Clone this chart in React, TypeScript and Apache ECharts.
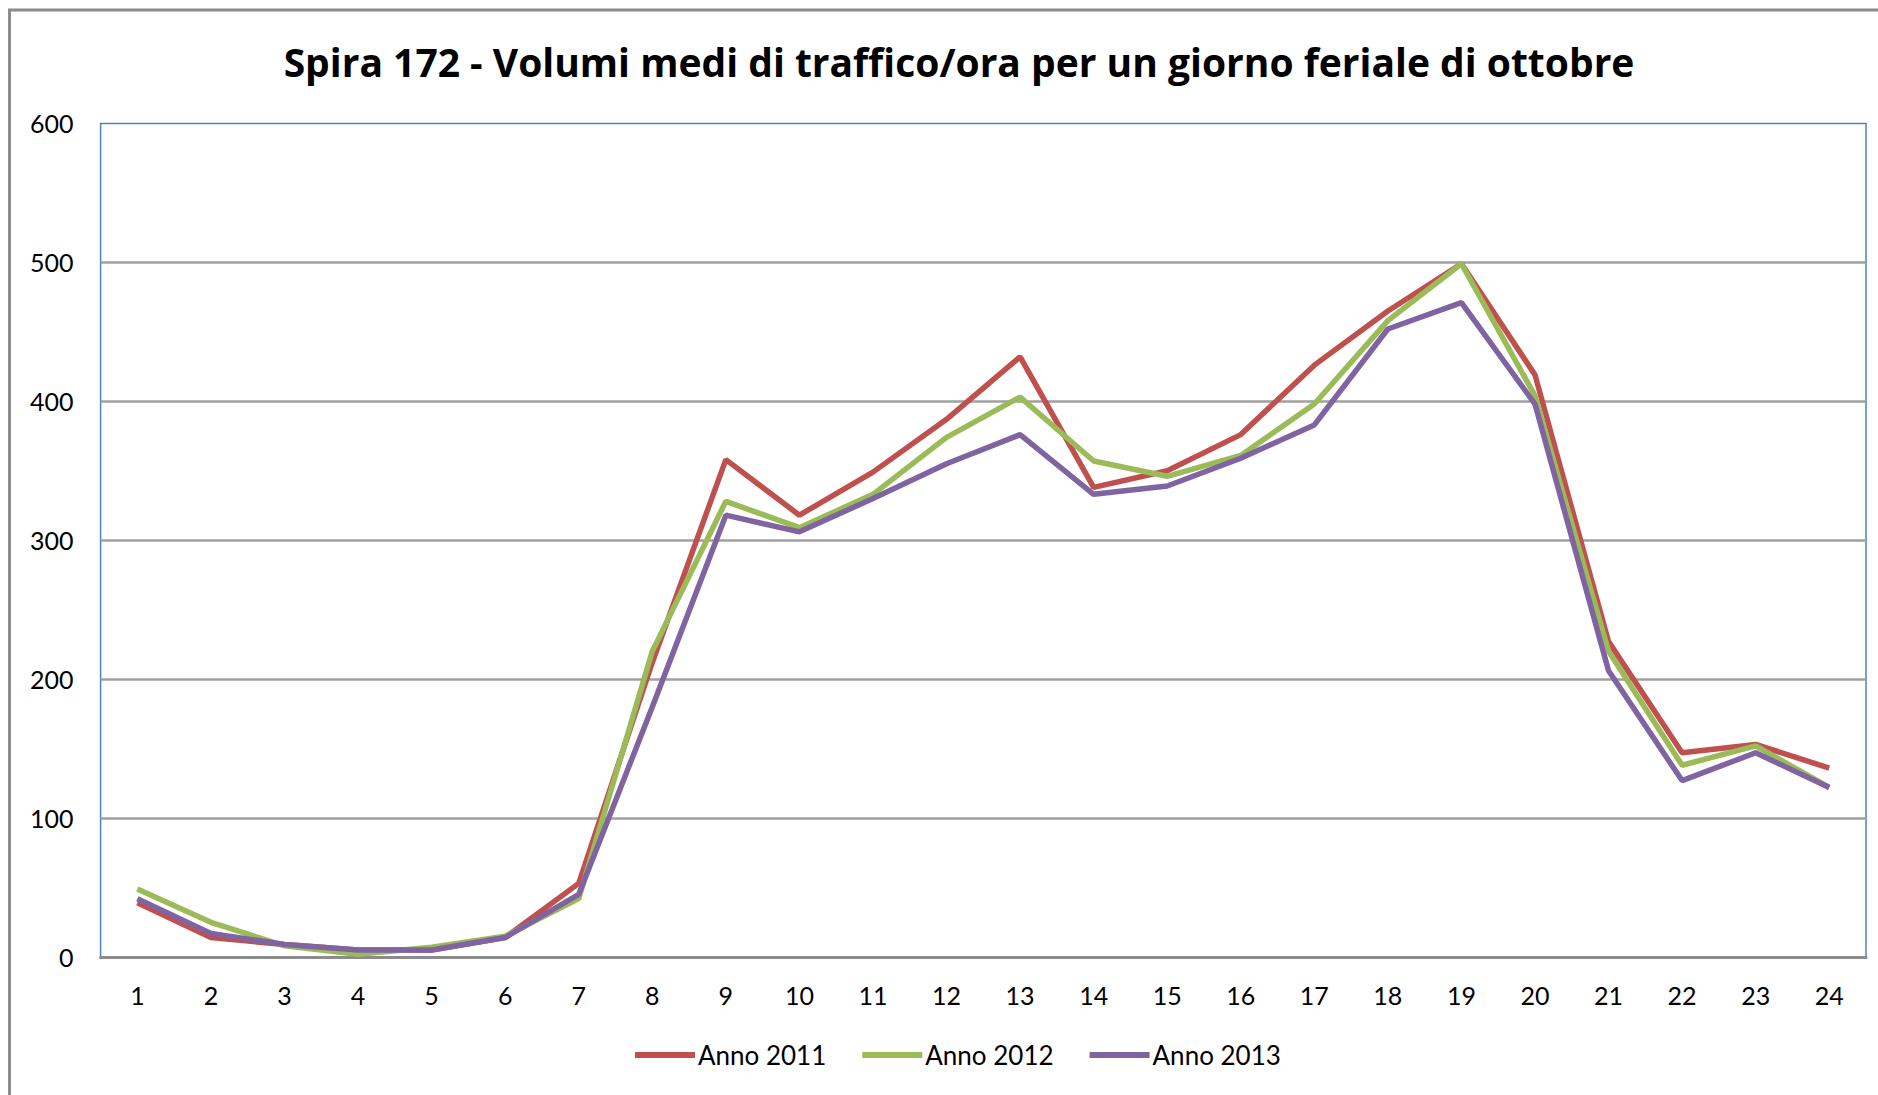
import React, { useEffect, useRef } from "react";
import * as echarts from "echarts";

const hours = ["1","2","3","4","5","6","7","8","9","10","11","12","13","14","15","16","17","18","19","20","21","22","23","24"];
const anno2011 = [39, 14, 9, 5, 5, 14, 53, 212, 358, 318, 349, 387, 432, 338, 350, 376, 426, 465, 499, 419, 227, 147, 153, 136];
const anno2012 = [49, 25, 8, 2, 7, 15, 42, 220, 328, 309, 333, 374, 403, 357, 346, 361, 398, 458, 499, 404, 220, 138, 152, 122];
const anno2013 = [42, 17, 9, 5, 5, 14, 45, 180, 318, 306, 330, 355, 376, 333, 339, 359, 383, 452, 471, 398, 206, 127, 147, 122];
const seriesNames = ["Anno 2011", "Anno 2012", "Anno 2013"];
const seriesColors = ["#C0504D", "#9BBB59", "#8064A2"];
const titleText = "Spira 172 - Volumi medi di traffico/ora per un giorno feriale di ottobre";

export default function App() {
  const ref = useRef<HTMLDivElement>(null);
  useEffect(() => {
    if (!ref.current) return;
    const chart = echarts.init(ref.current, null, { renderer: "svg" });
    const font = "Lato, 'Open Sans', sans-serif";
    const data = [anno2011, anno2012, anno2013];
    chart.setOption({
      animation: false,
      backgroundColor: "#ffffff",
      title: {
        text: titleText,
        left: 954,
        top: 56,
        textAlign: "center",
        textVerticalAlign: "middle",
        textStyle: { fontFamily: "'Open Sans', Lato, sans-serif", fontWeight: "bold", fontSize: 39, color: "#000000" },
      },
      graphic: [
        {
          type: "rect",
          shape: { x: 9.5, y: 10, width: 1900, height: 1100 },
          style: { fill: "none", stroke: "#8c8c8c", lineWidth: 3 },
          silent: true,
        },
      ],
      legend: {
        left: 635,
        top: 1042,
        orient: "horizontal",
        icon: "rect",
        itemWidth: 60,
        itemHeight: 6,
        itemGap: 36,
        textStyle: { fontFamily: font, fontSize: 26, color: "#000000", padding: [0, 0, 0, -2] },
        data: seriesNames,
        padding: 0,
      },
      grid: {
        left: 100.6,
        right: 12,
        top: 123.4,
        bottom: 138,
        show: true,
        borderColor: "#4F81BD",
        borderWidth: 1.5,
        backgroundColor: "transparent",
      },
      xAxis: {
        type: "category",
        data: hours,
        boundaryGap: true,
        axisLine: { show: true, lineStyle: { color: "#8c8c8c", width: 3 } },
        axisTick: { show: false },
        axisLabel: { fontFamily: font, fontSize: 25, color: "#000000", margin: 25 },
        splitLine: { show: false },
      },
      yAxis: {
        type: "value",
        min: 0,
        max: 600,
        interval: 100,
        axisLine: { show: false },
        axisTick: { show: false },
        axisLabel: { fontFamily: font, fontSize: 25, color: "#000000", margin: 27 },
        splitLine: {
          show: true,
          lineStyle: {
            color: ["#a0a0a0", "#a0a0a0", "#a0a0a0", "#a0a0a0", "#a0a0a0", "#a0a0a0", "transparent"],
            width: 2.5,
          },
        },
      },
      series: seriesNames.map((name, i) => ({
        name,
        type: "line",
        data: data[i],
        symbol: "none",
        showSymbol: false,
        lineStyle: { color: seriesColors[i], width: 5.5 },
        itemStyle: { color: seriesColors[i] },
        z: 3 + i,
      })),
    });
    return () => chart.dispose();
  }, []);
  return (
    <div
      ref={ref}
      style={{ position: "fixed", left: 0, top: 0, width: 1878, height: 1095, background: "#ffffff" }}
    />
  );
}
